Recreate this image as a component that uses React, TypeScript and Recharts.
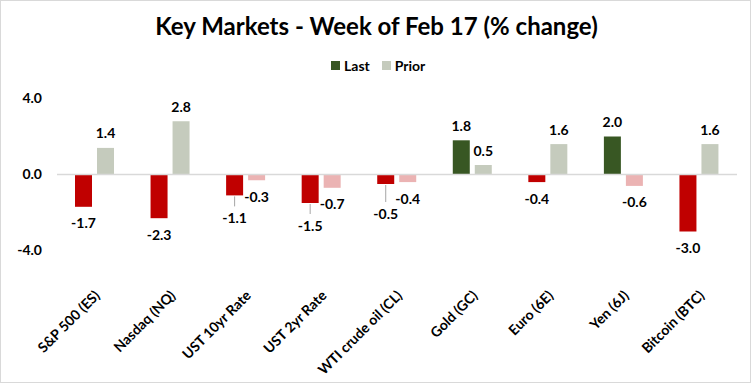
import React from 'react';
import { BarChart, Bar, XAxis, YAxis, Cell, ReferenceLine, LabelList } from 'recharts';

// Categories and weekly % changes
const categories = [
  'S&P 500 (ES)',
  'Nasdaq (NQ)',
  'UST 10yr Rate',
  'UST 2yr Rate',
  'WTI crude oil (CL)',
  'Gold (GC)',
  'Euro (6E)',
  'Yen (6J)',
  'Bitcoin (BTC)',
];
const lastValues = [-1.7, -2.3, -1.1, -1.5, -0.5, 1.8, -0.4, 2.0, -3.0];
const priorValues = [1.4, 2.8, -0.3, -0.7, -0.4, 0.5, 1.6, -0.6, 1.6];
const yTicks = [-4, 0, 4];

// Colours
const LAST_UP = '#385723';
const LAST_DOWN = '#c00000';
const PRIOR_UP = '#c5cbbd';
const PRIOR_DOWN = '#ebb3b3';

// Labels that Excel pushed down and tied to their bar with a leader line
const LABEL_DROP: Record<string, number> = {
  'UST 10yr Rate': 6,
  'UST 2yr Rate': 6,
  'WTI crude oil (CL)': 13,
};

const FONT = 'Lato, "Open Sans", sans-serif';

const data = categories.map((name, i) => ({
  name,
  last: lastValues[i],
  prior: priorValues[i],
}));

const makeLabel = (withLeader: boolean) => (props: any) => {
  const { x, y, width, height, value, index } = props;
  const top = Math.min(y, y + height);
  const bottom = Math.max(y, y + height);
  const cx = x + width / 2;
  const drop = withLeader ? LABEL_DROP[categories[index]] || 0 : 0;
  const ly = value < 0 ? bottom + 16 + drop : top - 15;
  return (
    <g>
      {drop > 0 && (
        <line x1={cx} x2={cx} y1={bottom + 1} y2={ly - 11} stroke='#a6a6a6' strokeWidth={1} />
      )}
      <text
        x={cx}
        y={ly}
        textAnchor='middle'
        dominantBaseline='central'
        fontFamily={FONT}
        fontWeight={700}
        fontSize={14}
        fill='#000'
      >
        {Number(value).toFixed(1)}
      </text>
    </g>
  );
};

const CategoryTick = (props: any) => {
  const { x, y, payload } = props;
  return (
    <g transform={`translate(${x + 6},${y + 38})`}>
      <text
        textAnchor='end'
        transform='rotate(-45)'
        fontFamily={FONT}
        fontWeight={700}
        fontSize={14}
        fill='#000'
      >
        {payload.value}
      </text>
    </g>
  );
};

export default function App() {
  return (
    <div
      style={{
        position: 'absolute',
        left: 0,
        top: 0,
        width: 751,
        height: 383,
        border: '1px solid #d9d9d9',
        boxSizing: 'border-box',
        background: '#fff',
        fontFamily: FONT,
      }}
    >
      <div
        style={{
          position: 'absolute',
          top: 9,
          left: 0,
          width: 751,
          textAlign: 'center',
          fontSize: 24,
          fontWeight: 700,
          color: '#000',
          lineHeight: '32px',
        }}
      >
        Key Markets - Week of Feb 17 (% change)
      </div>

      {/* legend */}
      <div
        style={{
          position: 'absolute',
          top: 56,
          left: 330,
          display: 'flex',
          alignItems: 'center',
          fontSize: 14,
          fontWeight: 700,
          color: '#000',
        }}
      >
        <span style={{ width: 9, height: 9, background: LAST_UP, marginRight: 4 }} />
        <span style={{ marginRight: 12 }}>Last</span>
        <span style={{ width: 9, height: 9, background: PRIOR_UP, marginRight: 4 }} />
        <span>Prior</span>
      </div>

      <div style={{ position: 'absolute', left: -1, top: -1 }}>
        <BarChart
          width={751}
          height={383}
          data={data}
          margin={{ top: 98.5, right: 14, bottom: 22.5, left: 0 }}
          barSize={17}
          barGap={5}
        >
          <XAxis
            dataKey='name'
            axisLine={false}
            tickLine={false}
            interval={0}
            height={110}
            tick={<CategoryTick />}
          />
          <YAxis
            width={57}
            domain={[-4, 4]}
            ticks={yTicks}
            axisLine={false}
            tickLine={false}
            tickSize={0}
            tickMargin={15}
            tickFormatter={(v: number) => v.toFixed(1)}
            tick={{ fontFamily: FONT, fontWeight: 700, fontSize: 14, fill: '#000' }}
          />
          <ReferenceLine y={0} stroke='#d9d9d9' strokeWidth={1.5} />
          <Bar dataKey='last' isAnimationActive={false}>
            {data.map((d) => (
              <Cell key={d.name} fill={d.last < 0 ? LAST_DOWN : LAST_UP} />
            ))}
            <LabelList dataKey='last' content={makeLabel(true)} />
          </Bar>
          <Bar dataKey='prior' isAnimationActive={false}>
            {data.map((d) => (
              <Cell key={d.name} fill={d.prior < 0 ? PRIOR_DOWN : PRIOR_UP} />
            ))}
            <LabelList dataKey='prior' content={makeLabel(false)} />
          </Bar>
        </BarChart>
      </div>
    </div>
  );
}
